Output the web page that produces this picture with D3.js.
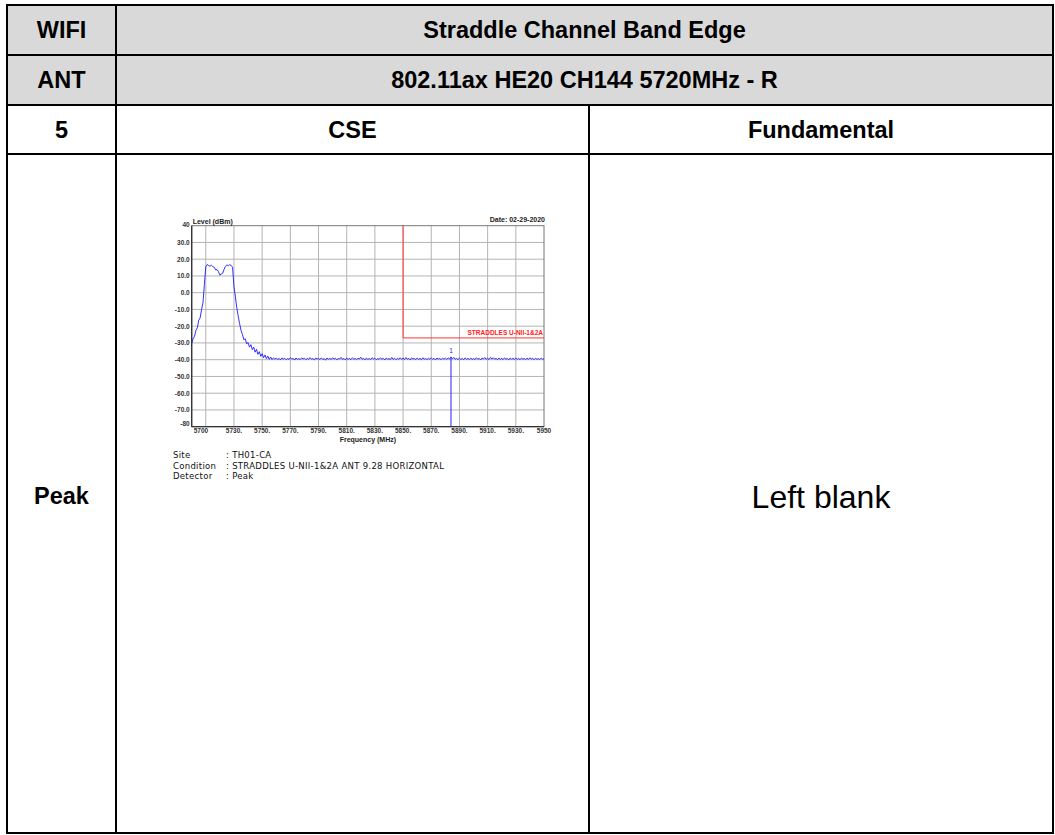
<!DOCTYPE html>
<html><head><meta charset="utf-8">
<script src="https://cdn.jsdelivr.net/npm/d3@7"></script>
<style>body{margin:0;background:#fff}svg{display:block}</style>
</head><body><svg id="c" width="1055" height="835"></svg>
<script>
// ---- data ----
const headerRow1 = ["WIFI", "Straddle Channel Band Edge"];
const headerRow2 = ["ANT", "802.11ax HE20 CH144 5720MHz - R"];
const headerRow3 = ["5", "CSE", "Fundamental"];
const bodyRow = ["Peak", "Left blank"];

const yTicks = [40, 30, 20, 10, 0, -10, -20, -30, -40, -50, -60, -70, -80];
const yTickLabels = ["40", "30.0", "20.0", "10.0", "0.0", "-10.0", "-20.0", "-30.0", "-40.0", "-50.0", "-60.0", "-70.0", "-80"];
const xGrid = [5710, 5730, 5750, 5770, 5790, 5810, 5830, 5850, 5870, 5890, 5910, 5930];
const xTicks = [5700, 5730, 5750, 5770, 5790, 5810, 5830, 5850, 5870, 5890, 5910, 5930, 5950];
const xTickLabels = ["5700", "5730.", "5750.", "5770.", "5790.", "5810.", "5830.", "5850.", "5870.", "5890.", "5910.", "5930.", "5950"];

const traceStartMHz = 5700, traceStepMHz = 1;
const traceLevels = [
 -30.2,-27.5,-26,-22.5,-21,-16.5,-15,-10,-6,5,
 15.5,16.8,16.2,15.8,16.4,15.6,15.2,13.6,13.8,12.5,
 10.5,11.2,11.6,14,15.8,16.6,16.1,16.7,16.3,15.2,
 3.5,-2.5,-9,-14,-18.5,-22.5,-25,-28,-27.5,-30.5,
 -29.8,-32.5,-31,-34,-32.5,-35.5,-33.8,-36.8,-35.2,-38,
 -36.4,-38.8,-37.2,-39.4,-37.8,-39.8,-38.4,-39.9,-38.9,-39.7,
 -39.0,-39.9,-39.2,-40.1,-38.9,-39.7,-39.1,-40.0,-39.3,-39.8,
 -38.8,-39.6,-39.2,-40.2,-39.0,-39.8,-39.3,-39.9,-38.9,-39.6,
 -39.1,-40.0,-39.2,-39.8,-38.7,-39.7,-39.3,-40.1,-39.0,-39.6,
 -39.2,-39.9,-38.9,-39.8,-39.4,-40.2,-39.0,-39.7,-39.2,-39.9,
 -38.8,-39.7,-39.1,-40.0,-39.3,-39.6,-38.6,-39.8,-39.2,-40.1,
 -39.0,-39.8,-39.3,-39.9,-38.9,-39.7,-39.2,-40.0,-39.1,-39.6,
 -38.5,-39.7,-39.2,-40.1,-39.0,-39.8,-39.3,-39.9,-38.8,-39.6,
 -39.1,-40.0,-39.3,-39.8,-38.9,-39.7,-39.2,-40.1,-39.0,-39.7,
 -39.3,-39.9,-38.6,-39.8,-39.1,-40.0,-39.2,-39.7,-38.9,-39.8,
 -39.0,-39.9,-38.7,-39.7,-39.2,-40.1,-38.9,-39.6,-39.3,-39.9,
 -39.0,-39.8,-39.2,-40.0,-38.8,-39.7,-39.3,-39.9,-39.1,-39.8,
 -38.9,-39.7,-39.2,-40.1,-39.0,-39.6,-39.3,-39.9,-39.1,-39.7,
 -39.0,-39.8,-38.9,-39.6,-38.4,-39.5,-38.6,-39.7,-39.2,-39.9,
 -39.1,-39.8,-39.3,-40.0,-38.9,-39.7,-39.2,-39.9,-39.0,-39.8,
 -39.3,-39.9,-38.8,-39.7,-39.2,-40.1,-39.0,-39.6,-38.7,-39.8,
 -39.1,-39.9,-38.6,-39.6,-38.8,-39.7,-39.2,-40.0,-39.0,-39.8,
 -39.2,-39.9,-38.9,-39.7,-39.3,-40.1,-39.0,-39.7,-39.2,-39.9,
 -38.9,-39.8,-39.2,-40.0,-39.0,-39.7,-39.3,-39.9,-39.1,-39.8,
 -38.8,-39.7,-39.2,-40.0,-39.1,-39.8,-39.3,-39.9,-39.0,-39.7,
 -39.4
];
const limitStartMHz = 5850, limitEndMHz = 5950, limitLevel = -27;
const limitLabel = "STRADDLES U-NII-1&2A";
const markerMHz = 5884, markerLevel = -38.3, markerLabel = "1";
const infoKeys = ["Site", "Condition", "Detector"];
const infoVals = [": TH01-CA", ": STRADDLES U-NII-1&2A ANT 9.28 HORIZONTAL", ": Peak"];

// ---- table ----
const svg = d3.select("#c");
const colX = [7, 116, 589, 1053];
const rowY = [5, 55, 105, 154, 833];
const F = "'Liberation Sans', Arial, sans-serif";

svg.append("rect").attr("x", colX[0]).attr("y", rowY[0]).attr("width", colX[3]-colX[0]).attr("height", rowY[2]-rowY[0]).attr("fill", "#d9d9d9");

function txt(x, y, s, size, weight) {
  svg.append("text").attr("x", x).attr("y", y).attr("text-anchor", "middle").attr("dominant-baseline", "central")
    .attr("font-family", F).attr("font-size", size).attr("font-weight", weight).attr("fill", "#000").text(s);
}
const c1 = (colX[0]+colX[1])/2, cWide = (colX[1]+colX[3])/2, c2 = (colX[1]+colX[2])/2, c3 = (colX[2]+colX[3])/2;
const HS = 23.5;
txt(c1, (rowY[0]+rowY[1])/2, headerRow1[0], HS, "bold");
txt(cWide, (rowY[0]+rowY[1])/2, headerRow1[1], HS, "bold");
txt(c1, (rowY[1]+rowY[2])/2, headerRow2[0], HS, "bold");
txt(cWide, (rowY[1]+rowY[2])/2, headerRow2[1], HS, "bold");
txt(c1, (rowY[2]+rowY[3])/2, headerRow3[0], HS, "bold");
txt(c2, (rowY[2]+rowY[3])/2, headerRow3[1], HS, "bold");
txt(c3, (rowY[2]+rowY[3])/2, headerRow3[2], HS, "bold");
txt(c1, (rowY[3]+rowY[4])/2 + 2, bodyRow[0], HS, "bold");
txt(c3, (rowY[3]+rowY[4])/2 + 3, bodyRow[1], 32, "normal");

const lines = svg.append("g").attr("stroke", "#000").attr("stroke-width", 2);
rowY.forEach(y => lines.append("line").attr("x1", colX[0]-1).attr("x2", colX[3]+1).attr("y1", y).attr("y2", y));
[colX[0], colX[1], colX[3]].forEach(x => lines.append("line").attr("x1", x).attr("x2", x).attr("y1", rowY[0]).attr("y2", rowY[4]));
lines.append("line").attr("x1", colX[2]).attr("x2", colX[2]).attr("y1", rowY[2]).attr("y2", rowY[4]);

// ---- spectrum chart ----
const pl = 191.7, pr = 544, pt = 225.7, pb = 426.7;
const x = d3.scaleLinear().domain([5700, 5950]).range([pl, pr]);
const y = d3.scaleLinear().domain([-80, 40]).range([pb, pt]);
const g = svg.append("g");

g.append("g").selectAll("line").data(yTicks.slice(1, -1)).join("line")
  .attr("x1", pl).attr("x2", pr).attr("y1", d => y(d)).attr("y2", d => y(d))
  .attr("stroke", "#b4b4b4").attr("stroke-width", 1);
g.append("g").selectAll("line").data(xGrid).join("line")
  .attr("x1", d => x(d)).attr("x2", d => x(d)).attr("y1", pt).attr("y2", pb)
  .attr("stroke", "#b4b4b4").attr("stroke-width", 1);
g.append("rect").attr("x", pl).attr("y", pt).attr("width", pr-pl).attr("height", pb-pt)
  .attr("fill", "none").attr("stroke", "#777").attr("stroke-width", 1);
g.append("line").attr("x1", pl).attr("x2", pl).attr("y1", pt).attr("y2", pb).attr("stroke", "#333").attr("stroke-width", 1.3);
g.append("line").attr("x1", pl).attr("x2", pr).attr("y1", pb).attr("y2", pb).attr("stroke", "#333").attr("stroke-width", 1.3);

const FS = 6.5;
g.append("g").selectAll("text").data(yTicks).join("text")
  .attr("x", pl - 2).attr("y", (d, i) => y(d) + (i === 0 ? 1 : i === yTicks.length-1 ? -1 : 2.3))
  .attr("text-anchor", "end").attr("font-family", F).attr("font-size", FS).attr("font-weight", "bold").attr("fill", "#333")
  .text((d, i) => yTickLabels[i]);
g.append("g").selectAll("text").data(xTicks).join("text")
  .attr("x", (d, i) => i === 0 ? x(d) + 2 : x(d))
  .attr("y", pb + 6.5)
  .attr("text-anchor", (d, i) => i === 0 ? "start" : "middle")
  .attr("font-family", F).attr("font-size", FS).attr("font-weight", "bold").attr("fill", "#333")
  .text((d, i) => xTickLabels[i]);
g.append("text").attr("x", (pl+pr)/2).attr("y", pb + 15).attr("text-anchor", "middle")
  .attr("font-family", F).attr("font-size", 7).attr("font-weight", "bold").attr("fill", "#222").text("Frequency (MHz)");
g.append("text").attr("x", pl + 1).attr("y", pt - 2).attr("font-family", F).attr("font-size", 7).attr("font-weight", "bold").attr("fill", "#222").text("Level (dBm)");
g.append("text").attr("x", pr + 1).attr("y", pt - 4).attr("text-anchor", "end").attr("font-family", F).attr("font-size", 7).attr("font-weight", "bold").attr("fill", "#222").text("Date: 02-29-2020");

// limit line
g.append("path").attr("d", d3.line()([[x(limitStartMHz), pt], [x(limitStartMHz), y(limitLevel)], [x(limitEndMHz), y(limitLevel)]]))
  .attr("fill", "none").attr("stroke", "#ff3333").attr("stroke-width", 1);
g.append("text").attr("x", x(limitEndMHz) - 1).attr("y", y(limitLevel) - 2.5).attr("text-anchor", "end")
  .attr("font-family", F).attr("font-size", 6.5).attr("font-weight", "bold").attr("fill", "#ff2020").text(limitLabel);

// trace
const pts = traceLevels.map((v, i) => [traceStartMHz + i * traceStepMHz, v]);
g.append("path").attr("d", d3.line().x(d => x(d[0])).y(d => y(d[1]))(pts))
  .attr("fill", "none").attr("stroke", "#1a1aff").attr("stroke-width", 0.9);

// marker
g.append("line").attr("x1", x(markerMHz)).attr("x2", x(markerMHz)).attr("y1", y(markerLevel)).attr("y2", pb)
  .attr("stroke", "#2222ff").attr("stroke-width", 1);
g.append("text").attr("x", x(markerMHz)).attr("y", y(markerLevel) - 4).attr("text-anchor", "middle")
  .attr("font-family", F).attr("font-size", 6.5).attr("fill", "#2222ff").text(markerLabel);

// info
const IF = "'DejaVu Sans', sans-serif";
infoKeys.forEach((k, i) => {
  g.append("text").attr("x", 173).attr("y", 458 + i * 10.5).attr("font-family", IF).attr("font-size", 8.5).attr("letter-spacing", 0.3).attr("fill", "#111").text(k);
  g.append("text").attr("x", 226).attr("y", 458 + i * 10.5).attr("font-family", IF).attr("font-size", 8.5).attr("letter-spacing", 0.3).attr("fill", "#111").text(infoVals[i]);
});
</script></body></html>
